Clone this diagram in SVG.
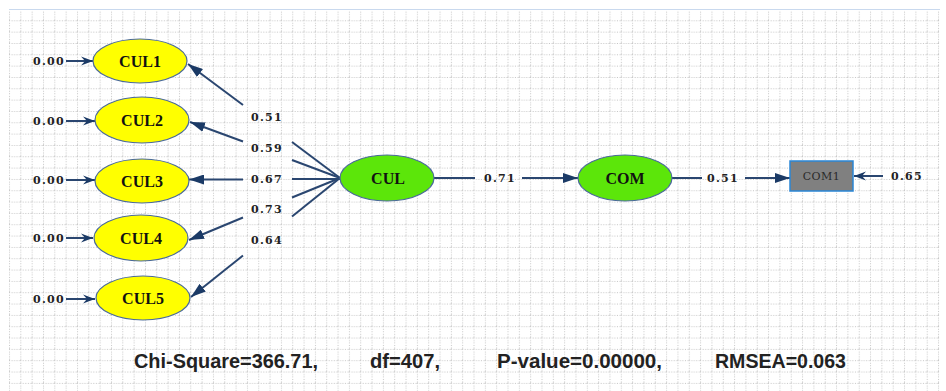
<svg xmlns="http://www.w3.org/2000/svg" width="946" height="391" viewBox="0 0 946 391">
  <defs>
    <pattern id="grid" x="9" y="9" width="11.33" height="11.33" patternUnits="userSpaceOnUse">
      <path d="M0,0.5 H11.33 M0.5,0 V11.33" fill="none" stroke="#c4c4c4" stroke-width="1" stroke-dasharray="1 1.5"/>
    </pattern>
    <marker id="tri" viewBox="0 0 15 10" refX="15" refY="5" markerWidth="15" markerHeight="10" markerUnits="userSpaceOnUse" orient="auto">
      <path d="M0,0 L15,5 L0,10 z" fill="#1b3a66"/>
    </marker>
    <marker id="barb" viewBox="0 0 12 10" refX="12" refY="5" markerWidth="12" markerHeight="10" markerUnits="userSpaceOnUse" orient="auto">
      <path d="M0,0.5 L12,5 L0,9.5 L4,5 z" fill="#1b3a66"/>
    </marker>
    <style>
      .ln { stroke: #2a4670; stroke-width: 2; fill: none; }
      .arr { marker-end: url(#tri); }
      .err { marker-end: url(#barb); }
      .lbl { font-family: "DejaVu Serif", "Liberation Serif", serif; font-weight: bold; font-size: 11px; letter-spacing: 1.3px; fill: #222; }
      .yel { fill: #ffff00; stroke: #4a6a9a; stroke-width: 1.2; }
      .grn { fill: #5ce60a; stroke: #4a6a9a; stroke-width: 1.2; }
      .nt { font-family: "Liberation Serif", "DejaVu Serif", serif; font-weight: bold; font-size: 16px; fill: #111; text-anchor: middle; }
      .fit { font-family: "Liberation Sans", Arial, sans-serif; font-weight: bold; font-size: 21px; fill: #222; }
    </style>
  </defs>

  <rect x="0" y="0" width="946" height="391" fill="#ffffff"/>
  <rect x="9" y="9" width="931" height="382" fill="url(#grid)"/>
  <line x1="9" y1="9.5" x2="940" y2="9.5" stroke="#c9d9ee" stroke-width="1"/>

  <g id="connectors">
    <line class="ln err" x1="66" y1="61" x2="93" y2="61"/>
    <line class="ln err" x1="66" y1="121" x2="95" y2="121"/>
    <line class="ln err" x1="66" y1="180" x2="95" y2="180"/>
    <line class="ln err" x1="66" y1="238" x2="93" y2="238"/>
    <line class="ln err" x1="66" y1="299" x2="95" y2="299"/>
    <line class="ln" x1="340" y1="178" x2="292" y2="142"/>
    <line class="ln arr" x1="243" y1="105" x2="188" y2="64"/>
    <line class="ln" x1="340" y1="178" x2="292" y2="160"/>
    <line class="ln arr" x1="243" y1="141.5" x2="190" y2="122"/>
    <line class="ln" x1="340" y1="179" x2="292" y2="179"/>
    <line class="ln arr" x1="243" y1="179.5" x2="189" y2="179.5"/>
    <line class="ln" x1="340" y1="178" x2="292" y2="197.5"/>
    <line class="ln arr" x1="243" y1="217.5" x2="189" y2="240"/>
    <line class="ln" x1="340" y1="178" x2="292" y2="216.5"/>
    <line class="ln arr" x1="243" y1="255.5" x2="191" y2="297"/>
    <line class="ln" x1="434" y1="178" x2="475" y2="178"/>
    <line class="ln arr" x1="522" y1="178" x2="578" y2="178"/>
    <line class="ln" x1="672" y1="178" x2="702" y2="178"/>
    <line class="ln arr" x1="745" y1="178" x2="790" y2="178"/>
    <line class="ln err" x1="883" y1="176" x2="854" y2="176"/>
  </g>

  <g id="labels">
    <text class="lbl" x="33" y="65">0.00</text>
    <text class="lbl" x="33" y="125">0.00</text>
    <text class="lbl" x="33" y="184">0.00</text>
    <text class="lbl" x="33" y="242">0.00</text>
    <text class="lbl" x="33" y="303">0.00</text>
    <text class="lbl" x="251" y="121">0.51</text>
    <text class="lbl" x="251" y="152">0.59</text>
    <text class="lbl" x="251" y="183">0.67</text>
    <text class="lbl" x="251" y="213">0.73</text>
    <text class="lbl" x="251" y="244">0.64</text>
    <text class="lbl" x="484" y="182">0.71</text>
    <text class="lbl" x="707" y="182">0.51</text>
    <text class="lbl" x="891" y="180">0.65</text>
  </g>

  <g id="CUL1"><ellipse class="yel" cx="140" cy="61" rx="47" ry="22"/><text class="nt" x="140" y="67">CUL1</text></g>
  <g id="CUL2"><ellipse class="yel" cx="142" cy="120" rx="47" ry="23"/><text class="nt" x="142" y="126">CUL2</text></g>
  <g id="CUL3"><ellipse class="yel" cx="142" cy="181" rx="47" ry="22"/><text class="nt" x="142" y="187">CUL3</text></g>
  <g id="CUL4"><ellipse class="yel" cx="141" cy="238" rx="47" ry="23"/><text class="nt" x="141" y="244">CUL4</text></g>
  <g id="CUL5"><ellipse class="yel" cx="143" cy="298" rx="47" ry="22"/><text class="nt" x="143" y="304">CUL5</text></g>

  <g id="CUL"><ellipse class="grn" cx="387" cy="178" rx="47" ry="23"/><text class="nt" x="388" y="184">CUL</text></g>
  <g id="COM"><ellipse class="grn" cx="625" cy="178" rx="47" ry="23"/><text class="nt" x="625" y="184">COM</text></g>

  <g id="COM1">
    <rect x="790" y="161" width="63" height="30" fill="#808080" stroke="#2a86d6" stroke-width="1.5"/>
    <text x="821.5" y="180" font-family="'DejaVu Serif', 'Liberation Serif', serif" font-size="11" letter-spacing="0.5" fill="#2a2a2a" text-anchor="middle">COM1</text>
  </g>

  <g id="fit">
    <text class="fit" x="134" y="368" textLength="184" lengthAdjust="spacingAndGlyphs">Chi-Square=366.71,</text>
    <text class="fit" x="370" y="368" textLength="70" lengthAdjust="spacingAndGlyphs">df=407,</text>
    <text class="fit" x="497" y="368" textLength="165" lengthAdjust="spacingAndGlyphs">P-value=0.00000,</text>
    <text class="fit" x="715" y="368" textLength="131" lengthAdjust="spacingAndGlyphs">RMSEA=0.063</text>
  </g>
</svg>
